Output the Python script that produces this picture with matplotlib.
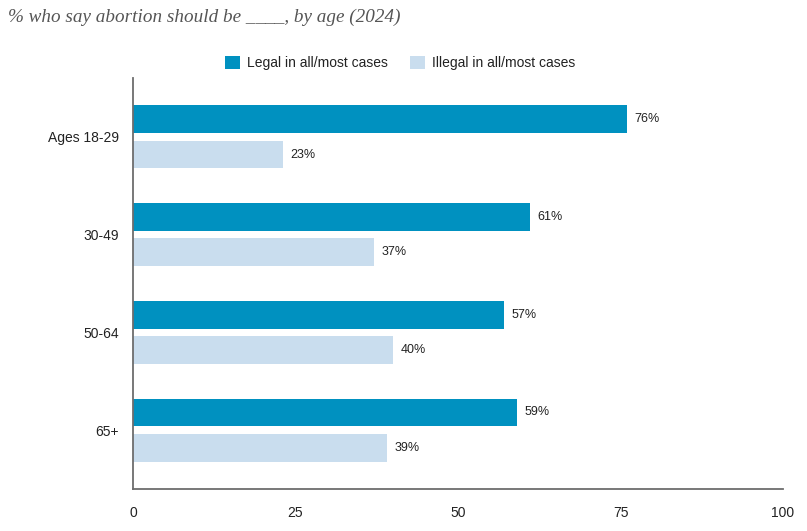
import matplotlib.pyplot as plt
import numpy as np
from matplotlib.patches import Patch

ages = ["Ages 18-29", "30-49", "50-64", "65+"]
legal = [76, 61, 57, 59]
illegal = [23, 37, 40, 39]
series_names = ["Legal in all/most cases", "Illegal in all/most cases"]
colors = ["#0091C0", "#C9DDEE"]

plt.rcParams["font.family"] = ["Liberation Sans", "DejaVu Sans"]

fig = plt.figure(figsize=(8.07, 5.31), dpi=100)
ax = fig.add_axes([133 / 807, 1 - 489 / 531, 650 / 807, 411 / 531])

y = np.arange(len(ages))
h = 0.285
off = 0.182
ax.barh(y - off, legal, height=h, color=colors[0])
ax.barh(y + off, illegal, height=h, color=colors[1])

for yi, v in zip(y, legal):
    ax.text(v + 1.2, yi - off, f"{v}%", va="center", ha="left", fontsize=9, color="#222222")
for yi, v in zip(y, illegal):
    ax.text(v + 1.2, yi + off, f"{v}%", va="center", ha="left", fontsize=9, color="#222222")

ax.set_xlim(0, 100)
ax.set_ylim(3.6, -0.6)
ax.set_yticks(y)
ax.set_yticklabels(ages, fontsize=10, color="#222222")
ax.set_xticks([0, 25, 50, 75, 100])
ax.set_xticklabels(["0", "25", "50", "75", "100"], fontsize=10, color="#222222")
ax.tick_params(axis="y", length=0, pad=10)
ax.tick_params(axis="x", length=0, pad=12)
for s in ["top", "right"]:
    ax.spines[s].set_visible(False)
for s in ["left", "bottom"]:
    ax.spines[s].set_color("#6d6d6d")
    ax.spines[s].set_linewidth(1.3)

handles = [Patch(facecolor=c, edgecolor="none") for c in colors]
fig.legend(handles, series_names, loc="center", bbox_to_anchor=(400 / 807, 1 - 63 / 531),
           ncol=2, frameon=False, fontsize=10, handlelength=1.1, handleheight=1.1,
           handletextpad=0.5, columnspacing=1.6, labelcolor="#222222")

fig.text(8 / 807, 1 - 17 / 531, "% who say abortion should be ____, by age (2024)",
         fontsize=13.8, style="italic", family=["Liberation Serif", "DejaVu Serif"],
         color="#555555", va="center", ha="left")

fig.savefig("out.png", dpi=100)
